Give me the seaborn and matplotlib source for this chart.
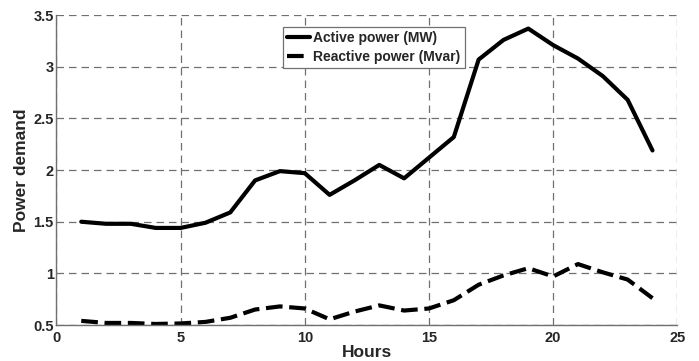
import numpy as np
import pandas as pd
import matplotlib
matplotlib.use("Agg")
import matplotlib.pyplot as plt
import seaborn as sns
from matplotlib.lines import Line2D

hours = list(range(1, 25))
active_mw = [1.50, 1.48, 1.48, 1.44, 1.44, 1.49, 1.59, 1.90, 1.99, 1.97, 1.76, 1.90,
             2.05, 1.92, 2.12, 2.32, 3.07, 3.26, 3.37, 3.21, 3.08, 2.91, 2.68, 2.19]
reactive_mvar = [0.54, 0.52, 0.52, 0.51, 0.515, 0.53, 0.57, 0.65, 0.68, 0.66, 0.555, 0.63,
                 0.69, 0.64, 0.66, 0.74, 0.89, 0.98, 1.05, 0.97, 1.09, 1.01, 0.94, 0.76]
series_names = ["Active power (MW)", "Reactive power (Mvar)"]
xticks = [0, 5, 10, 15, 20, 25]
yticks = [0.5, 1, 1.5, 2, 2.5, 3, 3.5]
ytick_labels = ["0.5", "1", "1.5", "2", "2.5", "3", "3.5"]

df = pd.DataFrame({
    "Hours": hours * 2,
    "value": active_mw + reactive_mvar,
    "series": [series_names[0]] * 24 + [series_names[1]] * 24,
})

sns.set_style("white")
plt.rcParams["font.family"] = ["Liberation Sans", "DejaVu Sans"]
plt.rcParams["font.weight"] = "bold"

fig = plt.figure(figsize=(6.99, 3.61), dpi=100)
ax = fig.add_axes([0.0807, 0.0997, 0.969 - 0.0807, 0.958 - 0.0997])

sns.lineplot(data=df, x="Hours", y="value", hue="series", style="series",
             palette=["black", "black"], dashes=[(None, None), (4, 1.6)],
             linewidth=3, ax=ax, legend=False)

ax.set_xlim(0, 25)
ax.set_ylim(0.5, 3.5)
ax.set_xticks(xticks)
ax.set_xticklabels([str(t) for t in xticks], fontsize=10.5, fontweight="bold")
ax.set_yticks(yticks)
ax.set_yticklabels(ytick_labels, fontsize=10.5, fontweight="bold")
ax.tick_params(axis="x", length=0, pad=4)
ax.tick_params(axis="y", length=0, pad=2)
ax.grid(True, linestyle=(0, (6, 4)), color="#707070", linewidth=0.9)
for s in ["top", "right"]:
    ax.spines[s].set_visible(False)
for s in ["left", "bottom"]:
    ax.spines[s].set_color("#707070")
    ax.spines[s].set_linewidth(1.0)
ax.set_xlabel("Hours", fontsize=12.5, fontweight="bold", labelpad=0)
ax.set_ylabel("Power demand", fontsize=12.5, fontweight="bold", labelpad=3)

handles = [Line2D([], [], color="black", lw=3),
           Line2D([], [], color="black", lw=3, dashes=(4, 1.6))]
leg = ax.legend(handles, series_names, loc="upper left",
                bbox_to_anchor=(0.3645, 0.962), borderaxespad=0,
                frameon=True, fancybox=False,
                edgecolor="#707070", framealpha=1, handlelength=1.65,
                handletextpad=0.25, borderpad=0.3, labelspacing=0.35,
                prop={"size": 10, "weight": "bold"})
leg.get_frame().set_linewidth(0.9)

fig.savefig("out.png", dpi=100)
